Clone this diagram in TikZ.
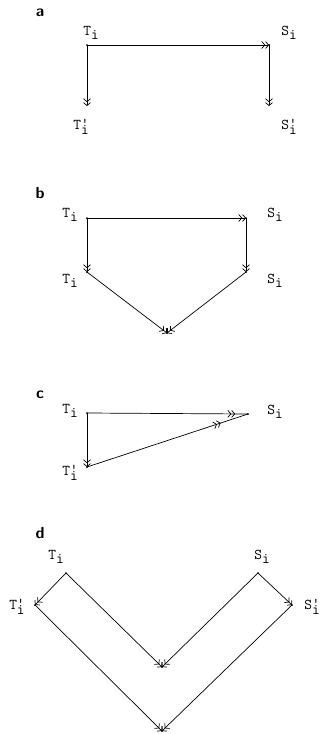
\documentclass[tikz,border=0pt]{standalone}
\usetikzlibrary{arrows.meta,decorations.markings}
\begin{document}
\begin{tikzpicture}[x=1pt,y=-1pt,
  lbl/.style={font=\fontsize{15}{15}\selectfont\ttfamily,inner sep=0pt},
  pan/.style={font=\fontsize{16}{16}\selectfont\sffamily\bfseries,inner sep=0pt},
  pt/.style={circle,fill=black,inner sep=0pt,minimum size=2pt},
  dbl/.style={line width=0.7pt,-{Straight Barb[length=3pt,width=7pt]Straight Barb[length=3pt,width=7pt]}},
  ln/.style={line width=0.7pt},
  midtip/.style={ln,postaction={decorate},decoration={markings,mark=at position #1 with {\arrow{Straight Barb[length=3pt,width=7pt]Straight Barb[length=3pt,width=7pt]}}}}
]
\newcommand{\Tp}{T\makebox[0pt][l]{\raisebox{0.2ex}{'}}\raisebox{-0.75ex}{i}}
\newcommand{\Sp}{S\makebox[0pt][l]{\raisebox{0.2ex}{'}}\raisebox{-0.75ex}{i}}
\newcommand{\Ti}{T\raisebox{-0.6ex}{i}}
\newcommand{\Si}{S\raisebox{-0.6ex}{i}}
\useasboundingbox (0,0) rectangle (321,734);
% panel a
\node[pan] (la) at (40,13) {a};
\node[pt] (Ta) at (87,45) {};
\node[pt] (Sa) at (269,45) {};
\node[pt,fill=none] (Ta2) at (87,106) {};
\node[pt,fill=none] (Sa2) at (269,106) {};
\node[lbl] (tTa) at (91,33) {\Ti};
\node[lbl] (tSa) at (289,33) {\Si};
\node[lbl] (tTa2) at (81,127) {\Tp};
\node[lbl] (tSa2) at (289,127) {\Sp};
\draw[dbl] (Ta.center) -- (Sa.center);
\draw[dbl] (Ta.center) -- (Ta2.center);
\draw[dbl] (Sa.center) -- (Sa2.center);
% panel b
\node[pan] (lb) at (40,193) {b};
\node[pt] (Tb) at (87,218) {};
\node[pt] (Sb) at (246,218) {};
\node[pt] (Tb2) at (87,272) {};
\node[pt] (Sb2) at (246,272) {};
\node[pt] (Bb) at (167,333) {};
\node[lbl] (tTb) at (70,215) {\Ti};
\node[lbl] (tSb) at (275,215) {\Si};
\node[lbl] (tTb2) at (70,281) {\Ti};
\node[lbl] (tSb2) at (275,281) {\Si};
\draw[dbl] (Tb.center) -- (Sb.center);
\draw[dbl] (Tb.center) -- (Tb2.center);
\draw[dbl] (Sb.center) -- (Sb2.center);
\draw[dbl] (Tb2.center) -- (Bb.center);
\draw[dbl] (Sb2.center) -- (Bb.center);
% panel c
\node[pan] (lc) at (40,395) {c};
\node[pt] (Tc) at (87,413) {};
\node[pt] (Sc) at (248,414) {};
\node[pt] (Tc2) at (87,467) {};
\node[lbl] (tTc) at (70,411) {\Ti};
\node[lbl] (tSc) at (275,412) {\Si};
\node[lbl] (tTc2) at (70,473) {\Tp};
\draw[midtip=0.92] (Tc.center) -- (Sc.center);
\draw[dbl] (Tc.center) -- (Tc2.center);
\draw[midtip=0.83] (Tc2.center) -- (Sc.center);
% panel d
\node[pan] (ld) at (40,533) {d};
\node[pt] (Td) at (66,573) {};
\node[pt] (Sd) at (258,573) {};
\node[pt] (Td2) at (35,605) {};
\node[pt] (Sd2) at (292,605) {};
\node[pt] (Md) at (162,667) {};
\node[pt] (Bd) at (162,731) {};
\node[lbl] (tTd) at (56,557) {\Ti};
\node[lbl] (tSd) at (262,557) {\Si};
\node[lbl] (tTd2) at (17,607) {\Tp};
\node[lbl] (tSd2) at (312,607) {\Sp};
\draw[dbl] (Td.center) -- (Td2.center);
\draw[dbl] (Sd.center) -- (Sd2.center);
\draw[dbl] (Td.center) -- (Md.center);
\draw[dbl] (Sd.center) -- (Md.center);
\draw[dbl] (Td2.center) -- (Bd.center);
\draw[dbl] (Sd2.center) -- (Bd.center);
\end{tikzpicture}
\end{document}
